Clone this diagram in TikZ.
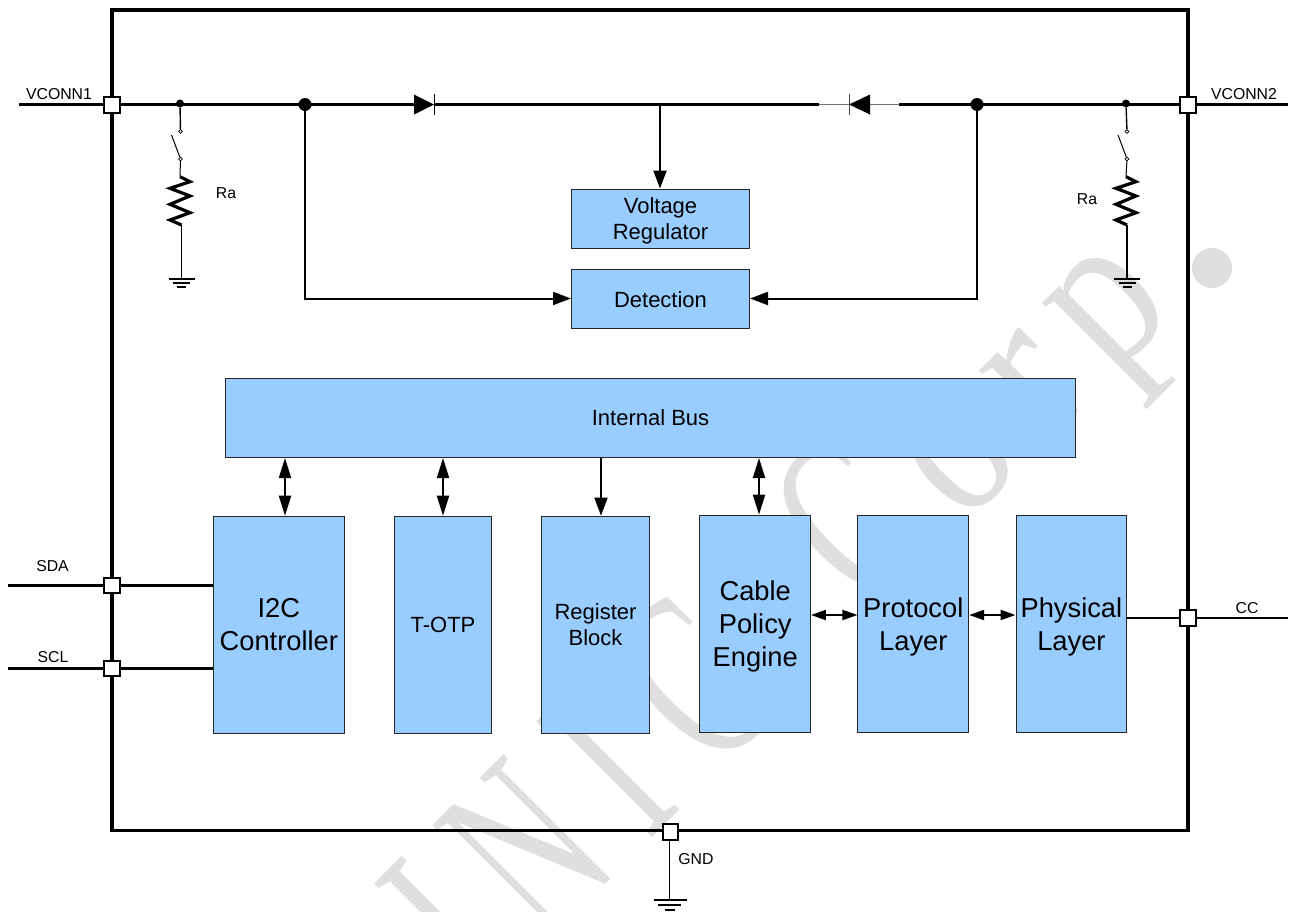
\documentclass[tikz,border=0pt]{standalone}
\usepackage{fontspec}
\usepackage{graphicx}
\setmainfont{Liberation Sans}
\newfontfamily\wmfont{Liberation Serif}
\usetikzlibrary{arrows.meta}
\definecolor{boxblue}{HTML}{99CCFF}
\definecolor{wmgray}{HTML}{DFDFDF}
\newcommand{\wmletter}[4]{%
  \pgfmathsetmacro{\wmx}{(1490+#1)/2}\pgfmathsetmacro{\wmy}{(1490-#1)/2}%
  \node[wmark] (wm#4#1) at (\wmx,\wmy) {\fontsize{#2}{#2}\selectfont\scalebox{#3}[1]{#4}};}
\tikzset{
  wmark/.style={rotate=45,anchor=base,inner sep=0pt,text=wmgray,font=\wmfont},
  block/.style={draw=black!85,line width=1pt,fill=boxblue,inner sep=0pt,align=center,text=black,text depth=0pt},
  smalltxt/.style={font=\fontsize{22}{26.5}\selectfont},
  bigtxt/.style={font=\fontsize{27.3}{33}\selectfont},
  pin/.style={draw=black,line width=2pt,fill=white,minimum size=15.5pt,inner sep=0pt},
  lab/.style={font=\fontsize{15.8}{19}\selectfont,inner sep=0pt},
  wire/.style={line width=2.05pt},
  thinwire/.style={line width=1.3pt},
  arr/.style={line width=2pt,-{Triangle[length=18pt,width=13pt]}},
  darr/.style={line width=2pt,{Triangle[length=20pt,width=12pt]}-{Triangle[length=20pt,width=12pt]}},
  harr/.style={line width=2pt,{Triangle[length=15pt,width=10pt]}-{Triangle[length=15pt,width=10pt]}},
  bigdot/.style={circle,fill=black,inner sep=0pt,minimum size=13pt},
  smalldot/.style={circle,fill=black,inner sep=0pt,minimum size=8pt},
  contact/.style={circle,draw=black,fill=white,line width=0.7pt,inner sep=0pt,minimum size=3.6pt},
  res/.style={line width=3.2pt,line join=miter},
  gnd/.style={line width=1.1pt}
}
\begin{document}
\begin{tikzpicture}[x=1pt,y=-1pt]
\useasboundingbox (0,0) rectangle (1291,911);
\fill[white] (0,0) rectangle (1291,911);
% watermark
\begin{scope}
\clip (0,0) rectangle (1291,911);
\wmletter{-482}{250}{0.60}{I}
\wmletter{-322}{250}{0.60}{N}
\wmletter{-157}{250}{0.60}{I}
\wmletter{12}{250}{0.62}{C}
\wmletter{330}{250}{0.62}{C}
\wmletter{502}{215}{0.82}{o}
\wmletter{648}{215}{0.90}{r}
\wmletter{800}{222}{0.85}{p}
\fill[wmgray] (1212,268) circle (20);
\end{scope}
% frame
\draw[line width=3.2pt] (112,10) rectangle (1188,830.5);
% blocks
\node[block,smalltxt,minimum width=178pt,minimum height=59pt] (vr) at (660.5,218.5) {Voltage\\Regulator};
\node[block,smalltxt,minimum width=178pt,minimum height=59.5pt] (det) at (660.5,299.2) {Detection};
\node[block,smalltxt,minimum width=850pt,minimum height=79pt] (bus) at (650.5,418) {Internal Bus};
\node[block,bigtxt,minimum width=130.5pt,minimum height=217pt] (i2c) at (278.8,624.7) {I2C\\Controller};
\node[block,smalltxt,minimum width=97pt,minimum height=217pt] (otp) at (443,624.7) {T-OTP};
\node[block,smalltxt,minimum width=108pt,minimum height=217pt] (reg) at (595.5,624.7) {Register\\Block};
\node[block,bigtxt,minimum width=110.5pt,minimum height=217pt] (cpe) at (755.2,623.7) {Cable\\Policy\\Engine};
\node[block,bigtxt,minimum width=110.7pt,minimum height=217pt] (pro) at (913.3,624) {Protocol\\Layer};
\node[block,bigtxt,minimum width=110.7pt,minimum height=217pt] (phy) at (1071.4,624) {Physical\\Layer};
% helper coordinates
\coordinate (v1end) at (19,104.5);
\coordinate (v2end) at (1288,104.5);
\coordinate (sdaend) at (8,585.5);
\coordinate (sclend) at (8,668.5);
\coordinate (ccend) at (1288,618);
\coordinate (tap) at (660,104.5);
\coordinate (d1a) at (414,104.5);
\coordinate (d1k) at (434,104.5);
\coordinate (d2a) at (870,104.5);
\coordinate (d2k) at (849,104.5);
\coordinate (gr1) at (181.5,279);
\coordinate (gr2) at (1127,279);
\coordinate (gr3) at (669.5,900);
\coordinate (c1) at (285,0);
\coordinate (c2) at (443,0);
\coordinate (c3) at (601,0);
\coordinate (c4) at (759,0);
\coordinate (c5) at (0,615);
% dots (junctions)
\node[bigdot] (j1) at (305,104.5) {};
\node[bigdot] (j2) at (977,104.5) {};
\node[smalldot] (s1) at (180,103.5) {};
\node[smalldot] (s2) at (1126,103.5) {};
% main rail
\draw[wire] (v1end) -- (d1a);
\draw[wire] (d1k) -- (819,104.5);
\draw[thinwire,black!55] (819,104.5) -- (d2k);
\draw[thinwire,black!55] (d2a) -- (899,104.5);
\draw[wire] (899,104.5) -- (v2end);
% diodes
\fill (d1a) ++(0,-10) -- ++(20,10) -- ++(-20,10) -- cycle;
\draw[line width=0.9pt] (d1k) ++(0,-10.5) -- ++(0,21);
\fill (d2a) ++(0,-10) -- ++(-21,10) -- ++(21,10) -- cycle;
\draw[line width=0.9pt,black!70] (d2k) ++(0,-10.5) -- ++(0,21);
% rail to blocks
\draw[arr] (tap) -- (tap |- vr.north);
\draw[arr] (j1.center) -- (305,298.5) -- (det.west |- 0,298.5);
\draw[arr] (j2.center) -- (977,298.5) -- (det.east |- 0,298.5);
% bus links
\draw[darr] (c1 |- bus.south) -- (c1 |- i2c.north);
\draw[darr] (c2 |- bus.south) -- (c2 |- otp.north);
\draw[arr,line width=1.6pt] (c3 |- bus.south) -- (c3 |- reg.north);
\draw[darr] (c4 |- bus.south) -- (c4 |- cpe.north);
\draw[harr] (cpe.east |- c5) -- (pro.west |- c5);
\draw[harr] (pro.east |- c5) -- (phy.west |- c5);
% outside signals
\draw[wire] (sdaend) -- (i2c.west |- sdaend);
\draw[wire] (sclend) -- (i2c.west |- sclend);
\draw[wire] (phy.east |- ccend) -- (ccend);
% left pull-down
\node[contact] (k1a) at (180.5,131.5) {};
\node[contact] (k1b) at (180.5,159) {};
\draw[line width=1.4pt] (s1) -- (k1a);
\draw[line width=1pt] (171.5,135) -- (k1b);
\draw[line width=1pt] (k1b) -- (180,176.7);
\draw[res] (180,176.7) -- (190,181.7) -- (170,188.3) -- (190,196) -- (170,204.3) -- (190,212.7) -- (170,220) -- (181.5,225);
\draw[line width=1.1pt] (181.5,225) -- (gr1);
\draw[gnd] (gr1) ++(-13,0) -- ++(26,0);
\draw[gnd] (gr1) ++(-8.5,4) -- ++(17,0);
\draw[gnd] (gr1) ++(-4.5,8) -- ++(9,0);
% right pull-down
\node[contact] (k2a) at (1127,131.5) {};
\node[contact] (k2b) at (1127,159) {};
\draw[line width=1.4pt] (s2) -- (k2a);
\draw[line width=1pt] (1118,135) -- (k2b);
\draw[line width=1pt] (k2b) -- (1126,176.7);
\draw[res] (1126,176.7) -- (1136,181.7) -- (1116,188.3) -- (1136,196) -- (1116,204.3) -- (1136,212.7) -- (1116,220) -- (1127,225);
\draw[line width=1.1pt] (1127,225) -- (gr2);
\draw[gnd] (gr2) ++(-13,0) -- ++(26,0);
\draw[gnd] (gr2) ++(-8.5,4) -- ++(17,0);
\draw[gnd] (gr2) ++(-4.5,8) -- ++(9,0);
% pins
\node[pin] (pv1) at (112,105) {};
\node[pin] (pv2) at (1188,105) {};
\node[pin] (psda) at (112,585.5) {};
\node[pin] (pscl) at (112,668.5) {};
\node[pin] (pcc) at (1188,618) {};
\node[pin] (pgnd) at (670.7,832) {};
% GND
\draw[line width=1.1pt] (pgnd.south -| gr3) -- (gr3);
\draw[gnd] (gr3) ++(-16,0) -- ++(33,0);
\draw[gnd] (gr3) ++(-11.5,5) -- ++(23,0);
\draw[gnd] (gr3) ++(-5,10) -- ++(10,0);
% labels
\node[lab] (l1) at (59,94) {VCONN1};
\node[lab] (l2) at (1244,94) {VCONN2};
\node[lab] (l3) at (52.5,566.5) {SDA};
\node[lab] (l4) at (53,657) {SCL};
\node[lab] (l5) at (1247,608) {CC};
\node[lab] (l6) at (696,859) {GND};
\node[lab] (l7) at (226,193) {Ra};
\node[lab] (l8) at (1087,199.5) {Ra};
\end{tikzpicture}
\end{document}
